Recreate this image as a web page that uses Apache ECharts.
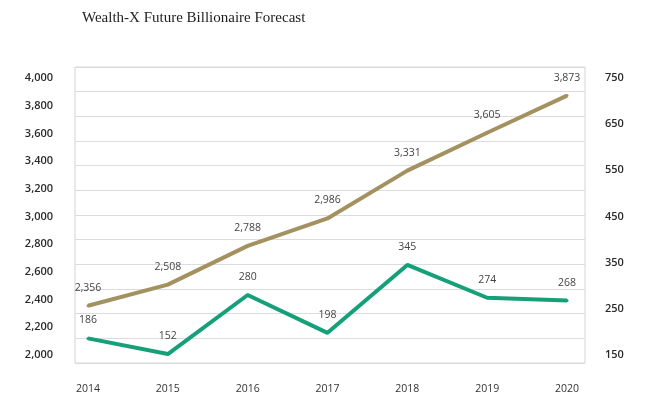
<!DOCTYPE html>
<html><head><meta charset="utf-8">
<script src="https://cdn.jsdelivr.net/npm/echarts@6/dist/echarts.min.js"></script>
<style>html,body{margin:0;padding:0;background:#fff}#c{width:660px;height:415px}</style>
</head><body><div id="c"></div>
<script>
const years = ['2014','2015','2016','2017','2018','2019','2020'];
const totalBillionaires = [2356, 2508, 2788, 2986, 3331, 3605, 3873];
const newBillionaires = [186, 152, 280, 198, 345, 274, 268];
const leftTicks = {min: 2000, max: 4000, interval: 200};
const rightTicks = {min: 150, max: 750, interval: 100};

const chart = echarts.init(document.getElementById('c'));
const numFmt = v => v.toLocaleString('en-US');
chart.setOption({
  animation: false,
  backgroundColor: '#fff',
  title: {
    text: 'Wealth-X Future Billionaire Forecast',
    left: 77, top: 6,
    textStyle: {fontFamily: 'Liberation Serif', fontSize: 15, fontWeight: 'normal', color: '#1e1e1e'}
  },
  grid: [
    {left: 75, right: 75, top: 67, bottom: 52, show: true, borderColor: '#d4d4d4', borderWidth: 1},
    {left: 88, right: 93, top: 78, bottom: 60}
  ],
  xAxis: [
    {gridIndex: 0, type: 'value', min: 0, max: 1, show: false},
    {gridIndex: 1, type: 'category', data: years, boundaryGap: false,
     axisLine: {show: false}, axisTick: {show: false},
     axisLabel: {margin: 29, fontFamily: 'Open Sans', fontSize: 10.5, color: '#333'}}
  ],
  yAxis: [
    {gridIndex: 0, type: 'value', min: 0, max: 12, interval: 1,
     axisLine: {show: false}, axisTick: {show: false}, axisLabel: {show: false},
     splitLine: {lineStyle: {color: '#dcdcdc', width: 1}}},
    {gridIndex: 1, type: 'value', position: 'left', min: leftTicks.min, max: leftTicks.max, interval: leftTicks.interval,
     axisLine: {show: false}, axisTick: {show: false}, splitLine: {show: false},
     axisLabel: {margin: 35, fontFamily: 'Open Sans', fontSize: 11, fontWeight: 600, color: '#2a2a2a', formatter: numFmt}},
    {gridIndex: 1, type: 'value', position: 'right', min: rightTicks.min, max: rightTicks.max, interval: rightTicks.interval,
     axisLine: {show: false}, axisTick: {show: false}, splitLine: {show: false},
     axisLabel: {margin: 38, fontFamily: 'Open Sans', fontSize: 11, fontWeight: 600, color: '#2a2a2a'}}
  ],
  series: [
    {type: 'line', xAxisIndex: 1, yAxisIndex: 1, data: totalBillionaires,
     symbol: 'circle', symbolSize: 3, showSymbol: true, itemStyle: {color: '#a3915f'},
     lineStyle: {color: '#a3915f', width: 4},
     label: {show: true, position: 'top', distance: 11, fontFamily: 'Open Sans', fontSize: 10.5, color: '#444', formatter: p => numFmt(p.value)}},
    {type: 'line', xAxisIndex: 1, yAxisIndex: 2, data: newBillionaires,
     symbol: 'circle', symbolSize: 3, showSymbol: true, itemStyle: {color: '#15a079'},
     lineStyle: {color: '#15a079', width: 4},
     label: {show: true, position: 'top', distance: 11, fontFamily: 'Open Sans', fontSize: 10.5, color: '#444'}}
  ]
});
</script></body></html>
